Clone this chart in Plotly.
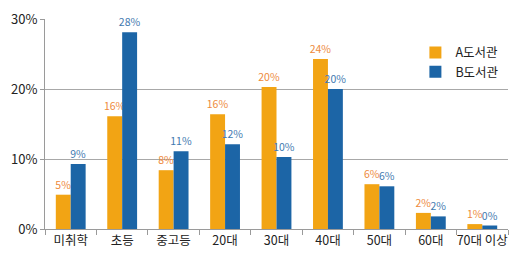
import plotly.graph_objects as go

categories = ["미취학", "초등", "중고등", "20대", "30대", "40대", "50대", "60대", "70대 이상"]
series_a_name = "A도서관"
series_b_name = "B도서관"
values_a = [4.9, 16.1, 8.4, 16.4, 20.3, 24.3, 6.4, 2.3, 0.7]
values_b = [9.3, 28.1, 11.1, 12.1, 10.3, 20.0, 6.1, 1.8, 0.5]
labels_a = ["5%", "16%", "8%", "16%", "20%", "24%", "6%", "2%", "1%"]
labels_b = ["9%", "28%", "11%", "12%", "10%", "20%", "6%", "2%", "0%"]
y_ticks = [0, 10, 20, 30]
y_tick_text = ["0%", "10%", "20%", "30%"]

FONT = "Noto Sans CJK KR"

fig = go.Figure()
fig.add_trace(go.Bar(
    x=categories, y=values_a, name=series_a_name,
    marker=dict(color="#F2A414", line=dict(width=0)),
    text=labels_a, textposition="outside", constraintext="none",
    textfont=dict(color="#EE8A3C", size=10.5, family=FONT),
    cliponaxis=False,
))
fig.add_trace(go.Bar(
    x=categories, y=values_b, name=series_b_name,
    marker=dict(color="#1C65A6", line=dict(width=0)),
    text=labels_b, textposition="outside", constraintext="none",
    textfont=dict(color="#3F79AF", size=10.5, family=FONT),
    cliponaxis=False,
))

fig.update_layout(
    width=522, height=274,
    margin=dict(l=45, r=14, t=19, b=45, autoexpand=False),
    paper_bgcolor="white", plot_bgcolor="white",
    barmode="group", bargap=0.42, bargroupgap=0,
    font=dict(family=FONT, color="#222222", size=12),
    showlegend=True,
    legend=dict(x=0.80, y=0.91, xanchor="left", yanchor="top",
                font=dict(size=12.5, color="#222222", family=FONT),
                bgcolor="rgba(0,0,0,0)", itemwidth=30, tracegroupgap=4),
)
fig.update_xaxes(
    showline=True, linecolor="#9a9a9a", linewidth=1,
    ticks="outside", tickson="boundaries", ticklen=5, tickcolor="#9a9a9a",
    tickangle=0, automargin=False,
    tickfont=dict(size=12.5, color="#222222", family=FONT),
    showgrid=False,
)
fig.update_yaxes(
    range=[0, 30], tickvals=y_ticks, ticktext=y_tick_text,
    showline=True, linecolor="#9a9a9a", linewidth=1,
    ticks="outside", ticklen=4, tickcolor="#9a9a9a", automargin=False,
    showgrid=True, gridcolor="#a8a8a8", gridwidth=1,
    tickfont=dict(size=13, color="#222222", family=FONT),
    zeroline=False,
)

fig.write_html("out.html", config={"displayModeBar": False},
               post_script="document.body.style.margin='0';document.body.style.padding='0';")
